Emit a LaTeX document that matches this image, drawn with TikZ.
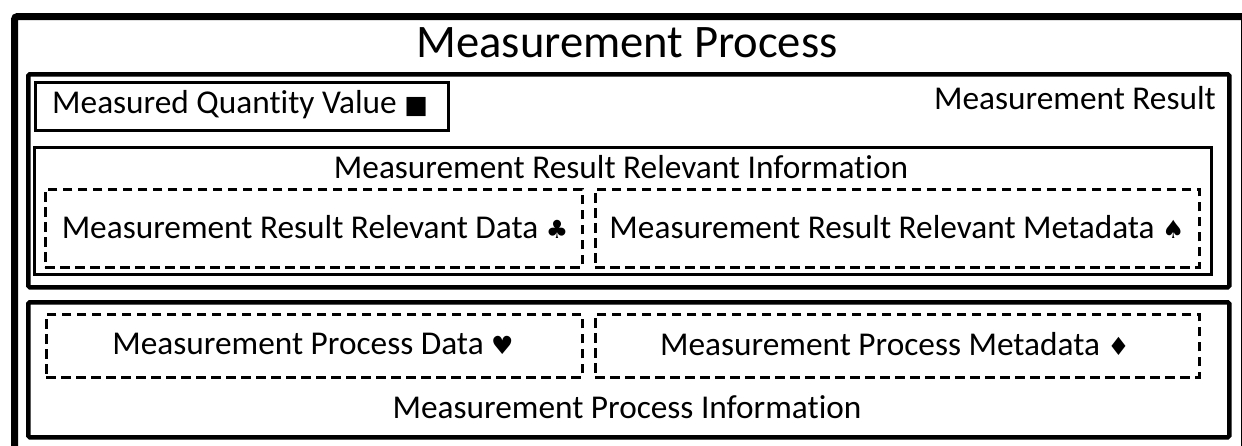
\documentclass[tikz,border=0pt]{standalone}
\usepackage{fontspec}
\setmainfont{Carlito}[Ligatures=NoCommon]
\newfontfamily\symf{DejaVu Sans}
\newcommand{\sym}[1]{{\symf\fontsize{25}{30}\selectfont #1}}
\begin{document}
\begin{tikzpicture}[x=1pt,y=-1pt,
  frame/.style={draw=black, inner sep=0pt, anchor=north west},
  thickframe/.style={frame, line width=7pt, rounded corners=3pt},
  midframe/.style={frame, line width=4.5pt, rounded corners=1.5pt},
  thinframe/.style={frame, line width=3pt},
  dashframe/.style={frame, line width=2.6pt, dash pattern=on 9.5pt off 5.5pt},
  lbl/.style={inner sep=0pt, font=\fontsize{33.3}{40}\selectfont},
  title/.style={inner sep=0pt, font=\fontsize{46.6}{56}\selectfont}
]
\useasboundingbox (0,0) rectangle (1242,445);
\fill[white] (0,0) rectangle (1242,445);
% boxes
\node[thickframe, minimum width=1230pt, minimum height=435pt] (proc) at (11,13) {};
\node[midframe, minimum width=1201pt, minimum height=213pt] (result) at (26,72) {};
\node[thinframe, minimum width=413pt, minimum height=48pt] (mqv) at (34,81) {};
\node[thinframe, minimum width=1177pt, minimum height=127pt] (mrri) at (33,146) {};
\node[dashframe, minimum width=537pt, minimum height=78pt] (mrrd) at (44,188) {};
\node[dashframe, minimum width=604pt, minimum height=78pt] (mrrm) at (594,188) {};
\node[midframe, minimum width=1201pt, minimum height=135pt] (mpi) at (26,300) {};
\node[dashframe, minimum width=536pt, minimum height=63pt] (mpd) at (45,313) {};
\node[dashframe, minimum width=604pt, minimum height=63pt] (mpm) at (594,313) {};
% texts
\node[title] (tproc) at (627,43) {Measurement Process};
\node[lbl, anchor=west] (tmqv) at (52,105) {Measured Quantity Value \sym{■}};
\node[lbl, anchor=east] (tres) at (1216,98) {Measurement Result};
\node[lbl] (tmrri) at (621,167) {Measurement Result Relevant Information};
\node[lbl] (tmrrd) at (315,227) {Measurement Result Relevant Data \sym{♣}};
\node[lbl] (tmrrm) at (897,227) {Measurement Result Relevant Metadata \sym{♠}};
\node[lbl] (tmpd) at (313,344) {Measurement Process Data \sym{♥}};
\node[lbl] (tmpm) at (895,344) {Measurement Process Metadata \sym{♦}};
\node[lbl] (tmpi) at (627,407) {Measurement Process Information};
\end{tikzpicture}
\end{document}
